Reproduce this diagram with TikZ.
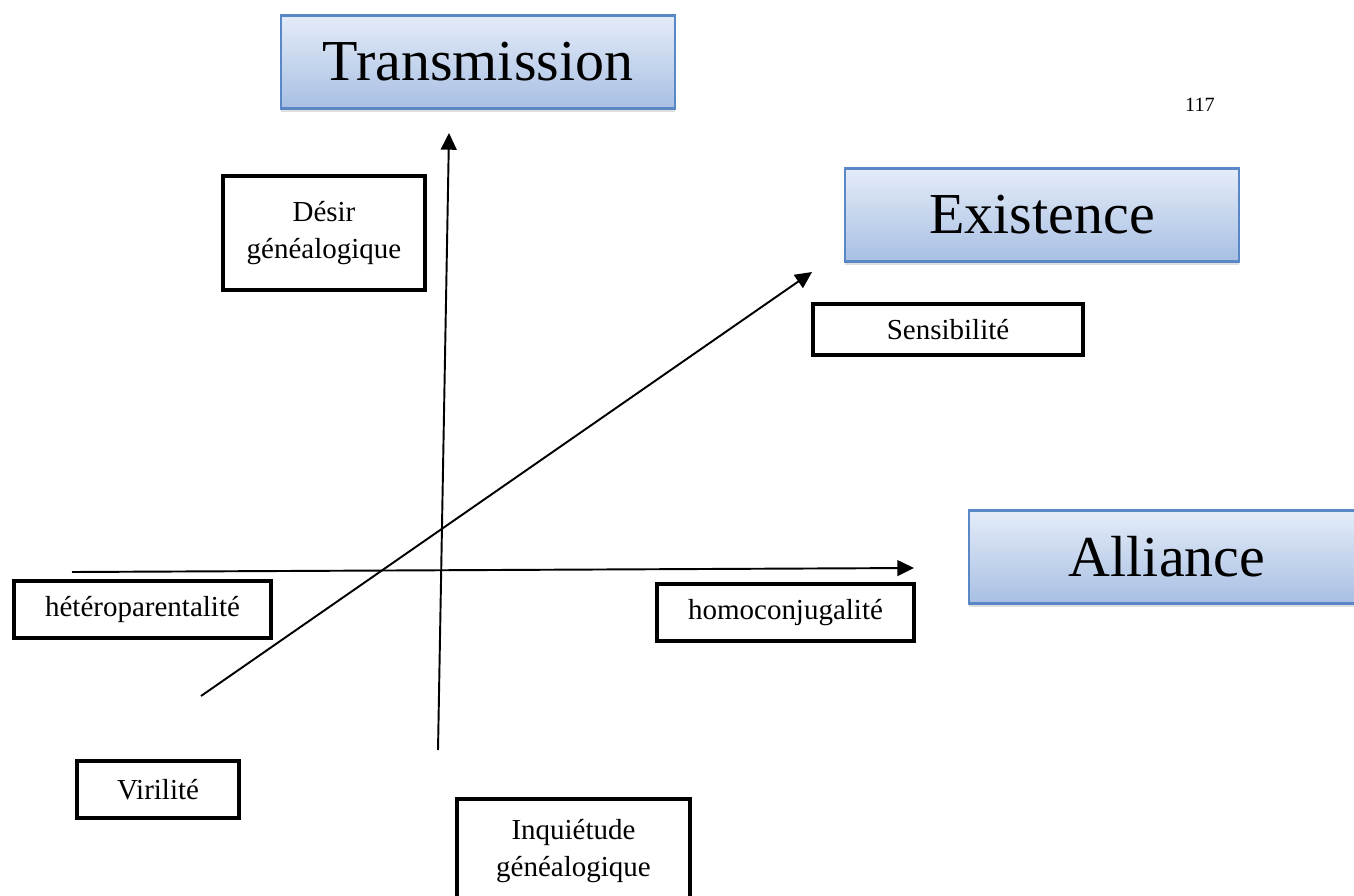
\documentclass[tikz,border=0pt]{standalone}
\usepackage{fontspec}
\setmainfont{Liberation Serif}
\usetikzlibrary{
	arrows.meta,
	positioning,
	shadows,
}
\definecolor{poletop}{HTML}{E4ECF8}
\definecolor{polebottom}{HTML}{A8BFE3}
\definecolor{poleline}{HTML}{5A87C6}

\begin{document}
\begin{tikzpicture}[
	x=0.02cm, y=-0.02cm,
	>={Triangle[length=9.5pt,width=9pt]}, line width=1.1pt, black,
	pole/.style={draw=poleline, line width=1.2pt, top color=poletop, bottom color=polebottom,
		minimum width=7.88cm, minimum height=1.86cm, inner sep=0pt,
		font=\fontsize{33}{40}\selectfont,
		drop shadow={shadow xshift=0pt, shadow yshift=-2pt, opacity=0.25}},
	tag/.style={draw, line width=2.4pt, align=center, inner sep=0pt,
		font=\fontsize{16.5}{21.5}\selectfont},
	]
	\useasboundingbox (0,0) rectangle (1354,895);
	
	%% poles
	\node[pole] (transmission) at (478,62) {Transmission};
	\node[pole] (existence) at (1042,215) {Existence};
	\node[pole,minimum width=7.92cm] (alliance) at (1167,557) {Alliance};
	\node[font=\fontsize{11.5}{14}\selectfont] (page) at (1200,105) {117};
	
	%% boxes
	\node[tag,minimum width=4.04cm,minimum height=2.28cm] (desir) at (324,233) {Désir\\généalogique};
	\node[tag,minimum width=5.4cm,minimum height=1.02cm] (sensi) at (948,329.5) {Sensibilité};
	\node[tag,minimum width=5.14cm,minimum height=1.14cm] (hetero) at (142.5,609.5) {hétéroparentalité};
	\node[tag,minimum width=5.14cm,minimum height=1.14cm] (homo) at (785.5,612.5) {homoconjugalité};
	\node[tag,minimum width=3.24cm,minimum height=1.14cm] (viril) at (158,789.5) {Virilité};
	\node[tag,minimum width=4.66cm,minimum height=2.08cm] (inquiet) at (573.5,851) {Inquiétude\\généalogique};
	
	%% axes
	\coordinate (vbot) at (438,750);
	\coordinate (vtop) at (449,133);
	\coordinate (hleft) at (72,572);
	\coordinate (hright) at (914,568);
	\coordinate (dlow) at (201,696);
	\coordinate (dhigh) at (812,272);
	
	\draw[->] (vbot) to (vtop);
	\draw[->] (hleft) to (hright);
	\draw[->] (dlow) to (dhigh);
	
\end{tikzpicture}
\end{document}
